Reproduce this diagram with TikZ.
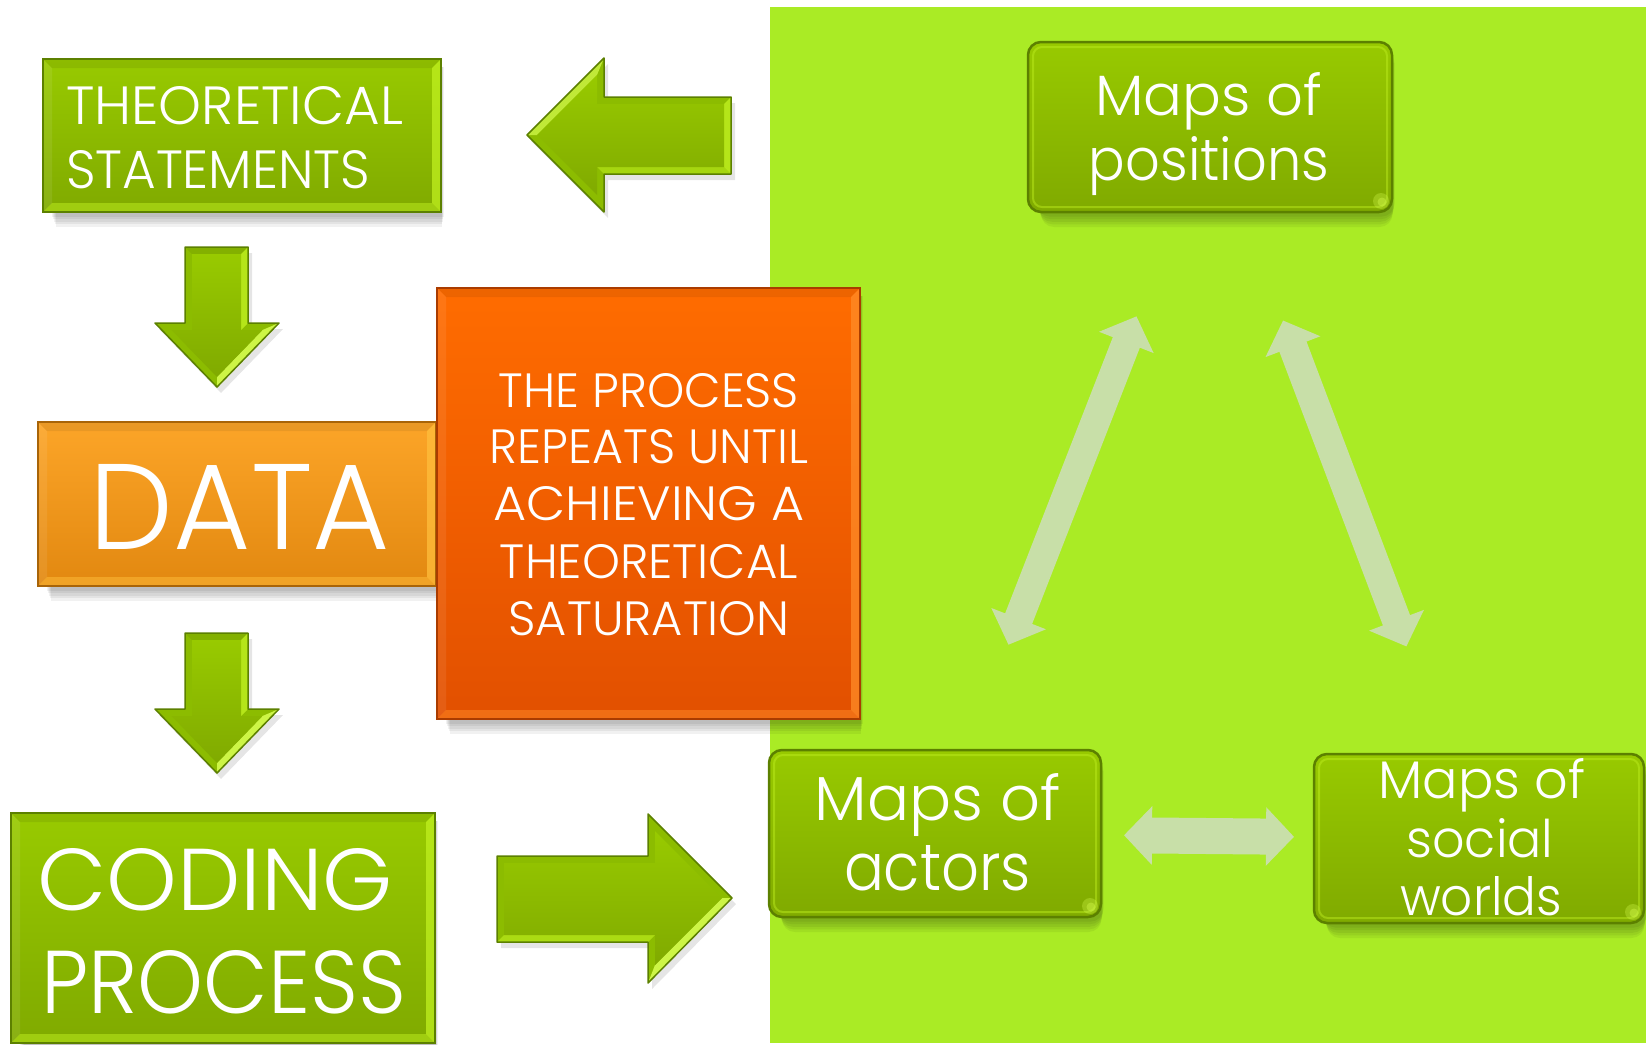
\documentclass[tikz,border=0pt]{standalone}
\usepackage{fontspec}
\setmainfont{Poppins Light}
\usepackage{graphicx}
\usetikzlibrary{calc,arrows.meta}
\definecolor{panel}{RGB}{170,235,37}
\definecolor{gTop}{RGB}{152,202,0}
\definecolor{gBot}{RGB}{128,170,0}
\definecolor{gBord}{RGB}{92,128,0}
\definecolor{gBev}{RGB}{140,188,0}
\definecolor{gHi}{RGB}{192,240,32}
\definecolor{yHi}{RGB}{205,245,70}
\definecolor{oTop}{RGB}{255,108,0}
\definecolor{oBot}{RGB}{226,80,0}
\definecolor{oBord}{RGB}{170,60,0}
\definecolor{oHi}{RGB}{255,140,40}
\definecolor{dTop}{RGB}{252,165,40}
\definecolor{dBot}{RGB}{226,136,16}
\definecolor{dBord}{RGB}{168,100,8}
\definecolor{dHi}{RGB}{255,190,60}
\definecolor{lightarrow}{RGB}{200,223,168}
\newcommand\fitt[3]{\resizebox{#1pt}{#2pt}{#3}}
% shadow below a box
\newcommand\shd[5][0pt]{\foreach \k in {1,...,5}{\fill[black,opacity=0.055,rounded corners=#1] ({#2+8+\k},{#3+8}) rectangle ({#4+3-0.5*\k},{#5+2+2.6*\k});}}
% bevel facets on a rectangular node
\newcommand\bvl[3]{%
  \coordinate (o1) at (#1.north west);
  \coordinate (o2) at (#1.north east);
  \coordinate (o3) at (#1.south east);
  \coordinate (o4) at (#1.south west);
  \coordinate (i1) at ($(o1)+(9pt,-9pt)$);
  \coordinate (i2) at ($(o2)+(-9pt,-9pt)$);
  \coordinate (i3) at ($(o3)+(-9pt,9pt)$);
  \coordinate (i4) at ($(o4)+(9pt,9pt)$);
  \fill[black,opacity=0.07] (o1)--(o2)--(i2)--(i1)--cycle;
  \fill[#2,opacity=0.75] (o2)--(o3)--(i3)--(i2)--cycle;
  \fill[#3,opacity=0.5] (o3)--(o4)--(i4)--(i3)--cycle;
  \fill[white,opacity=0.08] (o4)--(o1)--(i1)--(i4)--cycle;
}
\newcommand\downout{(185,247)--(248,247)--(248,323)--(279,323)--(217,387)--(155,323)--(185,323)--cycle}
\newcommand\downarrowshape{%
  \fill[black,opacity=0.10] [xshift=4pt,yshift=-6pt] \downout;
  \fill[gBev] \downout;
  \fill[gHi,opacity=0.8] (241,254)--(248,247)--(248,323)--(241,330)--cycle;
  \fill[black,opacity=0.06] (185,247)--(248,247)--(241,254)--(192,254)--cycle;
  \fill[yHi] (262.5,330)--(279,323)--(217,387)--(217,377)--cycle;
  \shade[top color=gTop,bottom color=gBot] (192,254)--(241,254)--(241,330)--(262.5,330)--(217,377)--(171.5,330)--(192,330)--cycle;
  \draw[gBord,line width=1.5pt,line join=round] \downout;
}
\tikzset{
  txt/.style={text=white,inner sep=0pt,outer sep=0pt},
  gbox/.style={rectangle,inner sep=0pt,outer sep=0pt,top color=gTop,bottom color=gBot},
  obox/.style={rectangle,inner sep=0pt,outer sep=0pt,top color=oTop,bottom color=oBot},
  dbox/.style={rectangle,inner sep=0pt,outer sep=0pt,top color=dTop,bottom color=dBot},
  rbox/.style={rectangle,rounded corners=13pt,inner sep=0pt,outer sep=0pt,top color=gTop,bottom color=gBot,draw=gBord,line width=2.5pt},
  lightarr/.style={draw=lightarrow,line width=29pt,{Triangle[length=28pt,width=57pt]}-{Triangle[length=28pt,width=57pt]}},
}
\begin{document}
\begin{tikzpicture}[x=1pt,y=-1pt]
\useasboundingbox (0,0) rectangle (1646,1044);
\fill[white] (0,0) rectangle (1646,1044);
\fill[panel] (770,7) rectangle (1646,1043);

% shadows
\shd{43}{59}{441}{212}
\shd{38}{422}{436}{586}
\shd{11}{813}{435}{1040}
\shd{437}{288}{860}{719}
\shd[13pt]{1028}{42}{1392}{212}
\shd[13pt]{769}{750}{1101}{917}
\shd[13pt]{1314}{754}{1644}{923}

% left boxes
\node[gbox,minimum width=398pt,minimum height=153pt] (ts) at (242,135.5) {};
\bvl{ts}{gHi}{gHi}
\draw[gBord,line width=2pt] (ts.north west) rectangle (ts.south east);

\node[dbox,minimum width=398pt,minimum height=164pt] (data) at (237,504) {};
\bvl{data}{dHi}{dHi}
\draw[dBord,line width=2pt] (data.north west) rectangle (data.south east);

\node[gbox,minimum width=424pt,minimum height=230pt] (coding) at (223,928) {};
\bvl{coding}{gHi}{gHi}
\draw[gBord,line width=2pt] (coding.north west) rectangle (coding.south east);

\node[obox,minimum width=423pt,minimum height=431pt] (proc) at (648.5,503.5) {};
\bvl{proc}{oHi}{oHi}
\draw[oBord,line width=2pt] (proc.north west) rectangle (proc.south east);

% map boxes
\node[rbox,minimum width=364pt,minimum height=170pt] (pos) at (1210,127) {};
\node[rbox,minimum width=332pt,minimum height=167pt] (act) at (935,833.5) {};
\node[rbox,minimum width=330pt,minimum height=169pt] (soc) at (1479,838.5) {};
\foreach \n in {pos,act,soc}{
  \draw[gHi,opacity=0.45,line width=2pt,rounded corners=9pt] ($(\n.north west)+(5pt,-5pt)$) rectangle ($(\n.south east)+(-5pt,5pt)$);
  \fill[yHi,opacity=0.35] ($(\n.south east)+(-11pt,11pt)$) circle (8pt);
  \fill[yHi,opacity=0.45] ($(\n.south east)+(-10pt,10pt)$) circle (4.5pt);
}

% block arrows
\downarrowshape
\begin{scope}[yshift=-386pt]
\downarrowshape
\end{scope}

% left-pointing arrow
\fill[black,opacity=0.10] [xshift=4pt,yshift=-6pt] (527,135)--(604,58)--(604,97)--(731,97)--(731,174)--(604,174)--(604,212)--cycle;
\fill[gBev] (527,135)--(604,58)--(604,97)--(731,97)--(731,174)--(604,174)--(604,212)--cycle;
\fill[yHi,opacity=0.8] (537,135)--(527,135)--(604,58)--(597,75)--cycle;
\fill[gHi,opacity=0.8] (724,104)--(731,97)--(731,174)--(724,167)--cycle;
\fill[gHi,opacity=0.5] (597,167)--(724,167)--(731,174)--(604,174)--cycle;
\shade[top color=gTop,bottom color=gBot] (537,135)--(597,75)--(597,104)--(724,104)--(724,167)--(597,167)--(597,195)--cycle;
\draw[gBord,line width=1.5pt,line join=round] (527,135)--(604,58)--(604,97)--(731,97)--(731,174)--(604,174)--(604,212)--cycle;

% right-pointing arrow
\fill[black,opacity=0.10] [xshift=4pt,yshift=-6pt] (497,856)--(648,856)--(648,814)--(732,898)--(648,983)--(648,942)--(497,942)--cycle;
\fill[gBev] (497,856)--(648,856)--(648,814)--(732,898)--(648,983)--(648,942)--(497,942)--cycle;
\fill[gHi,opacity=0.6] (497,942)--(504,935)--(655,935)--(648,942)--cycle;
\fill[yHi] (722,898)--(732,898)--(648,983)--(655,965)--cycle;
\shade[top color=gTop,bottom color=gBot] (504,863)--(655,863)--(655,831)--(722,898)--(655,965)--(655,935)--(504,935)--cycle;
\draw[gBord,line width=1.5pt,line join=round] (497,856)--(648,856)--(648,814)--(732,898)--(648,983)--(648,942)--(497,942)--cycle;

% light double arrows between maps
\draw[lightarr,shorten <=113pt,shorten >=112pt] (act) -- (pos);
\draw[lightarr,shorten <=116pt,shorten >=115pt] (pos) -- (soc);
\draw[lightarr,line width=36pt,shorten <=23pt,shorten >=20pt] (act) -- (soc);

% texts
\node[txt,anchor=base west] (ts1) at (66,124) {\fitt{337}{38}{THEORETICAL}};
\node[txt,anchor=base west] (ts2) at (66,188) {\fitt{304}{38}{STATEMENTS}};
\node[txt,anchor=base] (dt) at (240,549) {\fitt{300}{85}{DATA}};
\node[txt,anchor=base west] (cp1) at (37,910) {\fitt{356}{62}{CODING}};
\node[txt,anchor=base west] (cp2) at (41,1013) {\fitt{365}{63}{PROCESS}};
\node[txt,anchor=base] (pr1) at (649,407) {\fitt{300}{34}{THE PROCESS}};
\node[txt,anchor=base] (pr2) at (649,463) {\fitt{318}{34}{REPEATS UNTIL}};
\node[txt,anchor=base] (pr3) at (649,520) {\fitt{311}{34}{ACHIEVING A}};
\node[txt,anchor=base] (pr4) at (649,578) {\fitt{298}{34}{THEORETICAL}};
\node[txt,anchor=base] (pr5) at (649,635) {\fitt{281}{34}{SATURATION}};
\node[txt,anchor=base] (po1) at (1209,115) {\fitt{227}{43}{Maps of}};
\node[txt,anchor=base] (po2) at (1209,180) {\fitt{240}{44}{positions}};
\node[txt,anchor=base] (ac1) at (938,820) {\fitt{246}{47}{Maps of}};
\node[txt,anchor=base] (ac2) at (937.5,890) {\fitt{187}{45}{actors}};
\node[txt,anchor=base] (so1) at (1482,798) {\fitt{207}{40}{Maps of}};
\node[txt,anchor=base] (so2) at (1480,857) {\fitt{147}{39}{social}};
\node[txt,anchor=base] (so3) at (1481,915) {\fitt{162}{39}{worlds}};
\end{tikzpicture}
\end{document}
